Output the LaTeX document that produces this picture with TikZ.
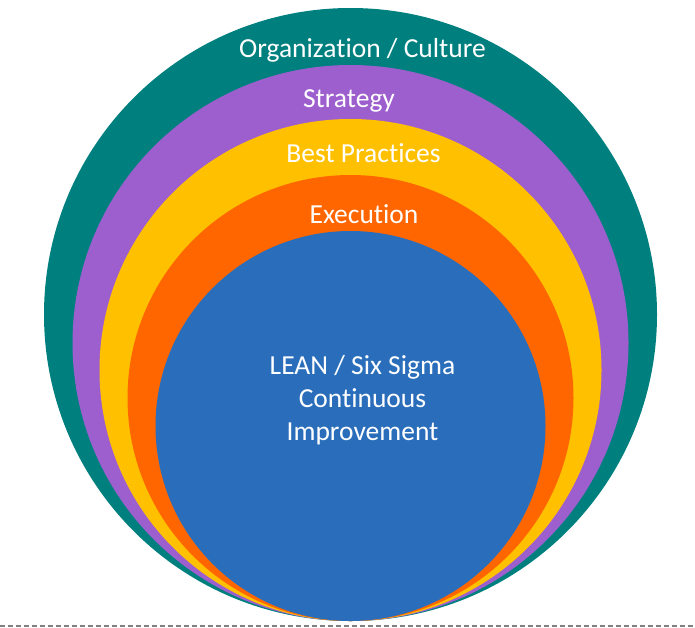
\documentclass[tikz,border=0pt]{standalone}
\usepackage{fontspec}
\setmainfont[RawFeature={-liga;-clig;-calt;-dlig}]{Carlito}
\usepackage{tikz}
\definecolor{ringteal}{HTML}{007F7F}
\definecolor{ringpurple}{HTML}{9E5FCE}
\definecolor{ringyellow}{HTML}{FFC000}
\definecolor{ringorange}{HTML}{FF6600}
\definecolor{ringblue}{HTML}{2A6EBB}
\tikzset{ringlabel/.style={text=white, inner sep=0pt, font=\fontsize{27.5}{33}\selectfont}}

\begin{document}
\begin{tikzpicture}[x=1pt, y=-1pt]
			%%%%% START %%%%%
			
			\useasboundingbox (0, 0) rectangle (695, 627);
			
			\fill[ringteal] (350.5, 314.5) circle (306.5pt);
			\fill[ringpurple] (350.5, 343) circle (278pt);
			\fill[ringyellow] (350.5, 370) circle (251pt);
			\fill[ringorange] (350.5, 398) circle (223pt);
			\fill[ringblue] (350.5, 426) circle (195pt);
			
			\node[ringlabel, anchor=base] (culture) at (362.5, 57) {Organization / Culture};
			\node[ringlabel, anchor=base] (strategy) at (349, 107) {Strategy};
			\node[ringlabel, anchor=base] (practices) at (363.5, 162) {Best Practices};
			\node[ringlabel, anchor=base] (execution) at (364, 223) {Execution};
			\node[ringlabel, align=center] (lean) at (362.5, 400) {LEAN / Six Sigma\\Continuous\\Improvement};
			
			\draw[line width=2.5pt, color=black!50, dash pattern=on 5pt off 3pt] (0, 626) -- (695, 626);
			
			%%%%% END %%%%%
		\end{tikzpicture}
\end{document}
